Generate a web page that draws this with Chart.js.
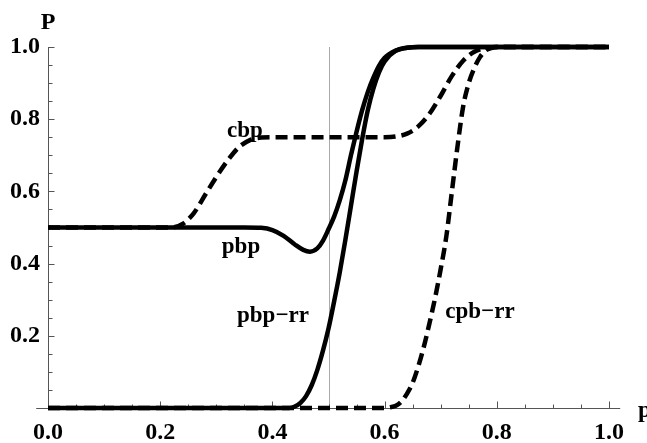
<!DOCTYPE html>
<html><head><meta charset="utf-8">
<style>html,body{margin:0;padding:0;background:#fff;overflow:hidden}#wrap{width:647px;height:443px}</style>
<script src="https://cdn.jsdelivr.net/npm/chart.js@4/dist/chart.umd.min.js"></script>
</head><body><div id="wrap"><canvas id="c" width="647" height="443"></canvas></div>
<script>
// ---- data ----
const xTicks = [0, 0.2, 0.4, 0.6, 0.8, 1.0];
const xTickLabels = ['0.0', '0.2', '0.4', '0.6', '0.8', '1.0'];
const yTicks = [0.2, 0.4, 0.6, 0.8, 1.0];
const yTickLabels = ['0.2', '0.4', '0.6', '0.8', '1.0'];
const seriesNames = ['pbp', 'pbp\u2212rr', 'cbp', 'cpb\u2212rr'];

const pbpX = [0, 0.35, 0.38, 0.40, 0.42, 0.44, 0.455, 0.467, 0.48, 0.49, 0.50, 0.51, 0.52, 0.53, 0.54, 0.55, 0.56, 0.57, 0.58, 0.59, 0.60, 0.62, 0.64, 0.66, 1.0];
const pbpY = [0.5, 0.5, 0.499, 0.493, 0.477, 0.453, 0.438, 0.433, 0.442, 0.463, 0.495, 0.53, 0.575, 0.63, 0.70, 0.765, 0.825, 0.875, 0.915, 0.948, 0.97, 0.99, 0.998, 1, 1];

const pbpRRX = [0, 0.43, 0.44, 0.45, 0.46, 0.47, 0.48, 0.49, 0.50, 0.51, 0.52, 0.53, 0.54, 0.55, 0.56, 0.57, 0.58, 0.59, 0.60, 0.62, 0.64, 0.66, 1.0];
const pbpRRY = [0, 0, 0.004, 0.014, 0.033, 0.063, 0.105, 0.158, 0.22, 0.295, 0.375, 0.465, 0.56, 0.655, 0.745, 0.825, 0.885, 0.93, 0.96, 0.99, 0.998, 1, 1];

const cbpX = [0, 0.22, 0.24, 0.26, 0.28, 0.30, 0.32, 0.34, 0.36, 0.38, 0.40, 0.60, 0.62, 0.64, 0.66, 0.68, 0.70, 0.72, 0.74, 0.76, 0.78, 0.80, 1.0];
const cbpY = [0.5, 0.5, 0.51, 0.54, 0.59, 0.64, 0.685, 0.722, 0.742, 0.749, 0.75, 0.75, 0.752, 0.76, 0.78, 0.815, 0.865, 0.92, 0.962, 0.987, 0.997, 1, 1];

const cpbRRX = [0, 0.60, 0.61, 0.62, 0.63, 0.64, 0.65, 0.66, 0.67, 0.68, 0.69, 0.70, 0.71, 0.72, 0.73, 0.74, 0.75, 0.76, 0.77, 0.78, 0.79, 0.80, 1.0];
const cpbRRY = [0, 0, 0.002, 0.006, 0.018, 0.04, 0.07, 0.115, 0.17, 0.235, 0.305, 0.385, 0.475, 0.6, 0.725, 0.835, 0.9, 0.942, 0.972, 0.99, 0.997, 1, 1];

// label anchors in data coordinates (layout, not data)
const labelAnchors = [[0.344, 0.43], [0.401, 0.238], [0.351, 0.751], [0.77, 0.249]];
const refLineX = 0.5;

// ---- build ----
const pts = (xs, ys) => xs.map((x, i) => ({x: x, y: ys[i]}));
const FONT = '"Liberation Serif", "Times New Roman", serif';

function lineDs(label, xs, ys, dashed) {
  return {
    label: label, data: pts(xs, ys), borderColor: '#000', borderWidth: 4.5,
    borderDash: dashed ? [12, 6] : [], borderCapStyle: 'butt', borderJoinStyle: 'round',
    pointRadius: 0, cubicInterpolationMode: 'monotone', clip: false, fill: false
  };
}

const axesPlugin = {
  id: 'axesPlugin',
  beforeDatasetsDraw(chart) {
    const ctx = chart.ctx, xs = chart.scales.x, ys = chart.scales.y;
    ctx.save();
    ctx.strokeStyle = '#aaaaaa'; ctx.lineWidth = 1;
    const rx = Math.round(xs.getPixelForValue(refLineX)) + 0.5;
    ctx.beginPath(); ctx.moveTo(rx, ys.getPixelForValue(0)); ctx.lineTo(rx, ys.getPixelForValue(1)); ctx.stroke();
    ctx.strokeStyle = '#555'; ctx.lineWidth = 1;
    const y0 = Math.round(ys.getPixelForValue(0)) + 0.5;
    const x0 = Math.round(xs.getPixelForValue(0)) + 0.5;
    ctx.beginPath(); ctx.moveTo(xs.getPixelForValue(-0.021), y0); ctx.lineTo(xs.getPixelForValue(1.02), y0); ctx.stroke();
    ctx.beginPath(); ctx.moveTo(x0, ys.getPixelForValue(0)); ctx.lineTo(x0, ys.getPixelForValue(1)); ctx.stroke();
    for (let i = 0; i < xTicks.length; i++) {
      const px = Math.round(xs.getPixelForValue(xTicks[i])) + 0.5;
      ctx.beginPath(); ctx.moveTo(px, y0); ctx.lineTo(px, y0 - 7); ctx.stroke();
      if (i < xTicks.length - 1) {
        for (let k = 1; k < 4; k++) {
          const v = xTicks[i] + (xTicks[i + 1] - xTicks[i]) * k / 4;
          const mx = Math.round(xs.getPixelForValue(v)) + 0.5;
          ctx.beginPath(); ctx.moveTo(mx, y0); ctx.lineTo(mx, y0 - 4); ctx.stroke();
        }
      }
    }
    const yAll = [0].concat(yTicks);
    for (let i = 0; i < yAll.length; i++) {
      const py = Math.round(ys.getPixelForValue(yAll[i])) + 0.5;
      if (i > 0) { ctx.beginPath(); ctx.moveTo(x0, py); ctx.lineTo(x0 + 6, py); ctx.stroke(); }
      if (i < yAll.length - 1) {
        for (let k = 1; k < 4; k++) {
          const v = yAll[i] + (yAll[i + 1] - yAll[i]) * k / 4;
          const my = Math.round(ys.getPixelForValue(v)) + 0.5;
          ctx.beginPath(); ctx.moveTo(x0, my); ctx.lineTo(x0 + 4, my); ctx.stroke();
        }
      }
    }
    ctx.restore();
  },
  afterDatasetsDraw(chart) {
    const ctx = chart.ctx, xs = chart.scales.x, ys = chart.scales.y;
    ctx.save();
    ctx.fillStyle = '#000';
    ctx.font = 'bold 23px ' + FONT;
    ctx.textAlign = 'center'; ctx.textBaseline = 'alphabetic';
    for (let i = 0; i < seriesNames.length; i++) {
      ctx.fillText(seriesNames[i], xs.getPixelForValue(labelAnchors[i][0]), ys.getPixelForValue(labelAnchors[i][1]));
    }
    ctx.font = 'bold 24px ' + FONT;
    ctx.fillText('P', xs.getPixelForValue(0), 29);
    ctx.textAlign = 'left';
    ctx.fillText('p', 638, 417);
    ctx.restore();
  }
};

const tickFont = {family: FONT, size: 24, weight: 'bold'};

new Chart(document.getElementById('c'), {
  type: 'line',
  data: {
    datasets: [
      lineDs(seriesNames[1], pbpRRX, pbpRRY, false),
      lineDs(seriesNames[0], pbpX, pbpY, false),
      lineDs(seriesNames[2], cbpX, cbpY, true),
      lineDs(seriesNames[3], cpbRRX, cpbRRY, true)
    ]
  },
  options: {
    responsive: false, animation: false, devicePixelRatio: 1,
    layout: {padding: {top: 47, right: 38, left: 0, bottom: 0}},
    plugins: {legend: {display: false}, tooltip: {enabled: false}},
    scales: {
      x: {
        type: 'linear', min: 0, max: 1,
        grid: {display: false}, border: {display: false},
        afterBuildTicks: s => { s.ticks = xTicks.map(v => ({value: v})); },
        afterFit: s => { s.height = 35; },
        ticks: {font: tickFont, color: '#000', padding: 2, maxRotation: 0, autoSkip: false,
          callback: (v) => { const i = xTicks.indexOf(v); return i >= 0 ? xTickLabels[i] : ''; }}
      },
      y: {
        type: 'linear', min: 0, max: 1,
        grid: {display: false}, border: {display: false},
        afterBuildTicks: s => { s.ticks = yTicks.map(v => ({value: v})); },
        afterFit: s => { s.width = 48; },
        ticks: {font: tickFont, color: '#000', padding: 0, autoSkip: false,
          callback: (v) => { const i = yTicks.indexOf(v); return i >= 0 ? yTickLabels[i] : ''; }}
      }
    }
  },
  plugins: [axesPlugin]
});
</script>
</body></html>
